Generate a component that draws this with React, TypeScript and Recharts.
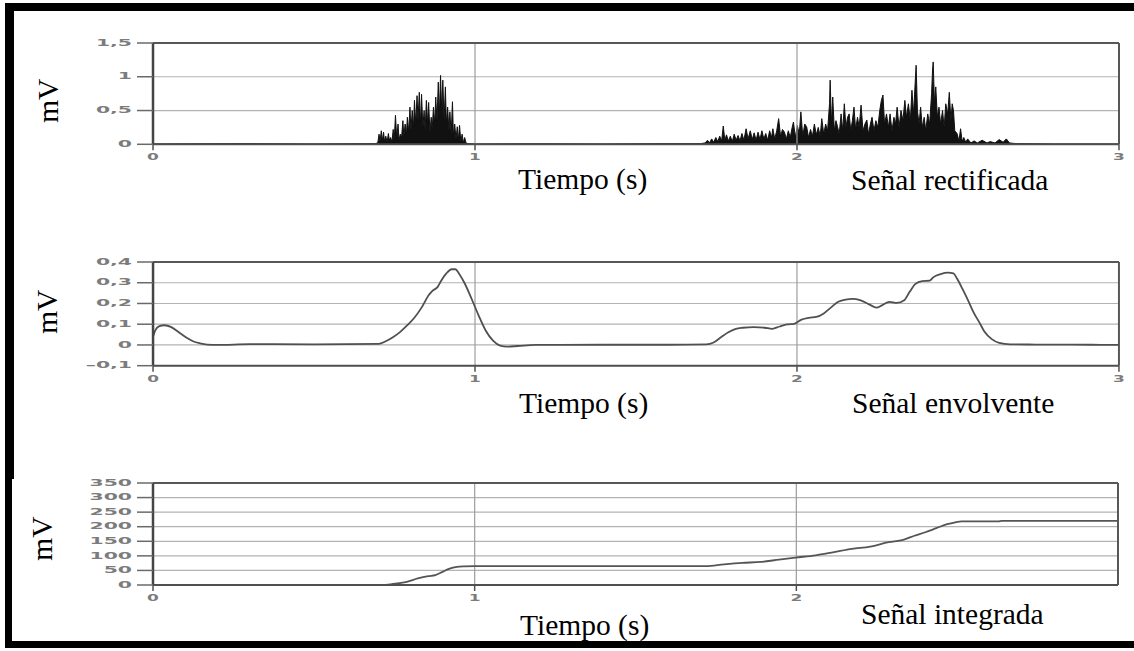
import React from 'react';
import { ComposedChart, Area, Line, XAxis, YAxis, CartesianGrid, ReferenceLine } from 'recharts';

// ---------- data ----------
const timeTicks = [0, 1, 2, 3];
const integratedTimeTicks = [0, 1, 2];
const rectYTicks = [0, 0.5, 1, 1.5];
const envYTicks = [-0.1, 0, 0.1, 0.2, 0.3, 0.4];
const intYTicks = [0, 50, 100, 150, 200, 250, 300, 350];

const panelTitles = ['Señal rectificada', 'Señal envolvente', 'Señal integrada'];
const xAxisTitle = 'Tiempo (s)';
const yAxisTitle = 'mV';

// [time (s), mV]
const rectifiedSamples: [number, number][] = [
  [0, 0.005], [0.3, 0.01], [0.5, 0.005], [0.69, 0.01],
  [0.698, 0.02], [0.702, 0.15], [0.705, 0.04], [0.709, 0.2], [0.712, 0.05], [0.716, 0.18],
  [0.719, 0.04], [0.723, 0.12], [0.727, 0.03], [0.731, 0.16], [0.734, 0.06], [0.738, 0.1],
  [0.742, 0.03], [0.746, 0.22], [0.749, 0.05], [0.753, 0.43], [0.757, 0.08], [0.761, 0.3],
  [0.764, 0.06], [0.768, 0.15], [0.772, 0.1], [0.776, 0.35], [0.779, 0.12], [0.783, 0.3],
  [0.787, 0.15], [0.79, 0.4], [0.794, 0.18], [0.798, 0.55], [0.801, 0.2], [0.805, 0.5],
  [0.809, 0.25], [0.812, 0.65], [0.816, 0.3], [0.82, 0.72], [0.823, 0.35], [0.827, 0.77],
  [0.831, 0.3], [0.834, 0.74], [0.838, 0.25], [0.842, 0.5], [0.845, 0.2], [0.849, 0.65],
  [0.853, 0.3], [0.856, 0.62], [0.86, 0.18], [0.864, 0.4], [0.867, 0.22], [0.871, 0.55],
  [0.875, 0.3], [0.878, 0.7], [0.882, 0.35], [0.886, 0.92], [0.889, 0.4], [0.893, 1.02],
  [0.897, 0.45], [0.9, 0.95], [0.904, 0.35], [0.908, 0.85], [0.911, 0.3], [0.915, 0.55],
  [0.919, 0.2], [0.922, 0.48], [0.926, 0.15], [0.93, 0.63], [0.933, 0.12], [0.937, 0.3],
  [0.941, 0.08], [0.945, 0.26], [0.948, 0.05], [0.952, 0.28], [0.956, 0.04], [0.96, 0.15],
  [0.964, 0.02], [0.968, 0.1], [0.972, 0.02], [0.978, 0.01],
  [1.0, 0.005], [1.2, 0.008], [1.4, 0.005], [1.6, 0.01], [1.7, 0.01],
  [1.715, 0.02], [1.722, 0.06], [1.728, 0.02], [1.735, 0.08], [1.741, 0.03], [1.748, 0.1],
  [1.754, 0.04], [1.76, 0.12], [1.766, 0.05], [1.771, 0.27], [1.776, 0.06], [1.781, 0.14],
  [1.787, 0.05], [1.793, 0.12], [1.799, 0.04], [1.805, 0.15], [1.811, 0.06], [1.817, 0.13],
  [1.823, 0.05], [1.829, 0.16], [1.835, 0.06], [1.842, 0.23], [1.848, 0.08], [1.855, 0.2],
  [1.861, 0.07], [1.867, 0.17], [1.873, 0.06], [1.879, 0.18], [1.885, 0.07], [1.891, 0.2],
  [1.897, 0.08], [1.903, 0.16], [1.909, 0.06], [1.915, 0.2], [1.921, 0.1], [1.925, 0.23],
  [1.931, 0.08], [1.937, 0.2], [1.943, 0.38], [1.949, 0.12], [1.955, 0.22], [1.961, 0.18],
  [1.967, 0.08], [1.973, 0.2], [1.979, 0.1], [1.985, 0.25], [1.989, 0.33], [1.995, 0.1],
  [2.001, 0.28], [2.007, 0.15], [2.012, 0.48], [2.018, 0.12], [2.024, 0.3], [2.03, 0.26],
  [2.036, 0.1], [2.042, 0.22], [2.048, 0.12], [2.054, 0.3], [2.06, 0.14], [2.066, 0.25],
  [2.072, 0.12], [2.077, 0.38], [2.083, 0.15], [2.089, 0.3], [2.095, 0.2], [2.101, 0.6],
  [2.103, 0.95], [2.107, 0.3], [2.111, 0.7], [2.116, 0.2], [2.121, 0.35], [2.126, 0.26],
  [2.131, 0.15], [2.137, 0.45], [2.142, 0.2], [2.147, 0.6], [2.152, 0.25], [2.157, 0.4],
  [2.162, 0.45], [2.167, 0.2], [2.172, 0.35], [2.177, 0.55], [2.182, 0.22], [2.188, 0.4],
  [2.193, 0.25], [2.199, 0.58], [2.205, 0.2], [2.211, 0.3], [2.217, 0.36], [2.222, 0.15],
  [2.228, 0.3], [2.233, 0.4], [2.239, 0.2], [2.245, 0.35], [2.251, 0.25], [2.257, 0.5],
  [2.262, 0.65], [2.267, 0.73], [2.272, 0.3], [2.278, 0.45], [2.284, 0.25], [2.289, 0.45],
  [2.295, 0.2], [2.301, 0.4], [2.306, 0.3], [2.311, 0.55], [2.317, 0.25], [2.323, 0.5],
  [2.329, 0.35], [2.335, 0.65], [2.34, 0.4], [2.346, 0.6], [2.352, 0.35], [2.357, 0.8],
  [2.362, 0.45], [2.368, 1.0], [2.37, 1.17], [2.374, 0.5], [2.379, 0.3], [2.384, 0.55],
  [2.389, 0.25], [2.395, 0.4], [2.4, 0.2], [2.406, 0.45], [2.412, 0.3], [2.418, 0.75],
  [2.421, 1.1], [2.423, 1.22], [2.427, 0.6], [2.431, 0.85], [2.436, 0.4], [2.441, 0.55],
  [2.446, 0.3], [2.452, 0.5], [2.457, 0.25], [2.462, 0.6], [2.468, 0.45], [2.473, 0.77],
  [2.478, 0.35], [2.482, 0.6], [2.486, 0.5], [2.49, 0.2], [2.497, 0.16], [2.503, 0.05],
  [2.508, 0.23], [2.513, 0.04], [2.518, 0.1], [2.524, 0.03], [2.53, 0.08], [2.54, 0.02],
  [2.55, 0.05], [2.56, 0.02], [2.575, 0.06], [2.59, 0.02], [2.6, 0.04], [2.615, 0.02],
  [2.628, 0.07], [2.64, 0.03], [2.65, 0.08], [2.66, 0.02], [2.68, 0.01], [2.8, 0.005], [3.0, 0.005],
];

const envelopeSamples: [number, number][] = [
  [0, 0.04], [0.007, 0.07], [0.018, 0.09], [0.035, 0.095], [0.057, 0.086], [0.079, 0.062],
  [0.102, 0.037], [0.124, 0.018], [0.146, 0.008], [0.168, 0.002], [0.2, 0], [0.3, 0.004],
  [0.5, 0.003], [0.701, 0.005], [0.723, 0.018], [0.745, 0.037], [0.767, 0.062], [0.789, 0.094],
  [0.811, 0.13], [0.834, 0.18], [0.856, 0.24], [0.867, 0.26], [0.884, 0.28], [0.895, 0.31],
  [0.911, 0.345], [0.928, 0.365], [0.939, 0.365], [0.95, 0.345], [0.967, 0.3], [0.989, 0.224],
  [1.011, 0.143], [1.033, 0.07], [1.056, 0.021], [1.078, -0.003], [1.1, -0.008], [1.133, -0.005],
  [1.189, 0], [1.4, 0.001], [1.6, 0.001], [1.719, 0.003], [1.741, 0.012], [1.764, 0.037],
  [1.787, 0.061], [1.81, 0.078], [1.832, 0.083], [1.866, 0.086], [1.9, 0.083], [1.923, 0.078],
  [1.946, 0.089], [1.969, 0.099], [1.991, 0.102], [2.014, 0.122], [2.037, 0.131], [2.06, 0.135],
  [2.082, 0.151], [2.105, 0.18], [2.128, 0.208], [2.151, 0.219], [2.173, 0.222], [2.196, 0.216],
  [2.224, 0.196], [2.247, 0.18], [2.264, 0.191], [2.287, 0.208], [2.31, 0.203], [2.333, 0.216],
  [2.35, 0.256], [2.367, 0.293], [2.389, 0.308], [2.412, 0.31], [2.423, 0.326], [2.446, 0.342],
  [2.469, 0.349], [2.486, 0.345], [2.497, 0.32], [2.514, 0.27], [2.531, 0.216], [2.548, 0.158],
  [2.566, 0.11], [2.582, 0.065], [2.605, 0.028], [2.628, 0.01], [2.662, 0.003], [2.742, 0.002],
  [2.855, 0.002], [2.969, 0], [3, 0],
];

const integratedSamples: [number, number][] = [
  [0, 0], [0.706, 0], [0.745, 3.4], [0.789, 11], [0.823, 22.6], [0.856, 30.5], [0.878, 34],
  [0.9, 45], [0.922, 56], [0.945, 62], [0.967, 64], [1.0, 65], [1.3, 65], [1.719, 65],
  [1.775, 71], [1.832, 76], [1.889, 79], [1.946, 87], [1.997, 94], [2.06, 102], [2.117, 113],
  [2.173, 124], [2.23, 132], [2.287, 147], [2.332, 155], [2.367, 169], [2.401, 181],
  [2.435, 195], [2.469, 209], [2.491, 214], [2.514, 218], [2.628, 218], [2.639, 220], [3, 220],
];

const toRows = (s: [number, number][]) => s.map(([t, v]) => ({ t, v }));
const rectifiedData = toRows(rectifiedSamples);
const envelopeData = toRows(envelopeSamples);
const integratedData = toRows(integratedSamples);

// ---------- styling helpers ----------
const fmtNum = (v: number) => (v < 0 ? '\u2013' + String(-v) : String(v)).replace('.', ',');

const tickFont = {
  fontFamily: '"DejaVu Sans", sans-serif',
  fontWeight: 700,
  fontSize: 8.5,
  fill: '#7c7c7c',
};

const yTick = (props: any) => {
  const { x, y, payload } = props;
  return (
    <g transform={`translate(${x},${y}) scale(2.4,1)`}>
      <text x={0} y={0} textAnchor="end" dominantBaseline="central" {...tickFont}>
        {fmtNum(payload.value)}
      </text>
    </g>
  );
};

const xTick = (props: any) => {
  const { x, y, payload } = props;
  return (
    <g transform={`translate(${x},${y + 5}) scale(2.0,1)`}>
      <text x={0} y={0} textAnchor="middle" dominantBaseline="central" {...tickFont}>
        {String(payload.value)}
      </text>
    </g>
  );
};

const W = 1134;

type PanelProps = {
  plotTop: number;
  plotBottom: number;
  plotRight: number;
  yDomain: [number, number];
  yTicks: number[];
  xTicks: number[];
  children: React.ReactNode;
  data: { t: number; v: number }[];
};

const Panel = ({ plotTop, plotBottom, plotRight, yDomain, yTicks, xTicks, children, data }: PanelProps) => {
  const h = plotBottom - plotTop + 40;
  return (
    <div style={{ position: 'absolute', left: 0, top: plotTop - 10, width: W, height: h }}>
      <ComposedChart
        width={W}
        height={h}
        data={data}
        margin={{ top: 10, right: W - plotRight, bottom: 0, left: 93 }}
      >
        <CartesianGrid vertical={false} stroke="#b3b3b3" strokeWidth={1.2} />
        <ReferenceLine x={1} stroke="#9d9d9d" strokeWidth={1.2} />
        <ReferenceLine x={2} stroke="#9d9d9d" strokeWidth={1.2} />
        <ReferenceLine y={yDomain[1]} stroke="#575757" strokeWidth={2} />
        <ReferenceLine x={3} stroke="#575757" strokeWidth={2} />
        <XAxis
          type="number"
          dataKey="t"
          domain={[0, 3]}
          ticks={xTicks}
          interval={0}
          height={30}
          tickSize={6}
          tickMargin={2}
          axisLine={{ stroke: '#505050', strokeWidth: 2 }}
          tickLine={{ stroke: '#505050', strokeWidth: 1.5 }}
          tick={xTick}
          allowDataOverflow
        />
        <YAxis
          type="number"
          domain={yDomain}
          ticks={yTicks}
          interval={0}
          width={60}
          tickSize={16}
          tickMargin={5}
          axisLine={{ stroke: '#454545', strokeWidth: 2.5 }}
          tickLine={{ stroke: '#6a6a6a', strokeWidth: 1.5 }}
          tick={yTick}
          allowDataOverflow
        />
        {children}
      </ComposedChart>
    </div>
  );
};

const serif = '"Liberation Serif", "Times New Roman", serif';

export default function App() {
  return (
    <div style={{ position: 'absolute', left: 0, top: 0, width: W, height: 651, background: '#fff', overflow: 'hidden' }}>
      {/* frame */}
      <div style={{ position: 'absolute', left: 5, top: 3, width: W - 5, height: 8, background: '#000' }} />
      <div style={{ position: 'absolute', left: 5, top: 3, width: 9, height: 476, background: '#000' }} />
      <div style={{ position: 'absolute', left: 5, top: 479, width: 7, height: 169, background: '#000' }} />
      <div style={{ position: 'absolute', left: 5, top: 641, width: W - 5, height: 7, background: '#000' }} />

      <Panel plotTop={42.7} plotBottom={144} plotRight={1119} yDomain={[0, 1.5]} yTicks={rectYTicks} xTicks={timeTicks} data={rectifiedData}>
        <Area
          type="linear"
          dataKey="v"
          stroke="#111"
          strokeWidth={1}
          fill="#111"
          fillOpacity={1}
          baseValue={0}
          dot={false}
          activeDot={false}
          isAnimationActive={false}
        />
      </Panel>

      <Panel plotTop={262.3} plotBottom={366} plotRight={1119} yDomain={[-0.1, 0.4]} yTicks={envYTicks} xTicks={timeTicks} data={envelopeData}>
        <Line type="monotone" dataKey="v" stroke="#505050" strokeWidth={1.8} dot={false} activeDot={false} isAnimationActive={false} />
      </Panel>

      <Panel plotTop={483.3} plotBottom={585.3} plotRight={1118} yDomain={[0, 350]} yTicks={intYTicks} xTicks={integratedTimeTicks} data={integratedData}>
        <Line type="monotone" dataKey="v" stroke="#555555" strokeWidth={1.8} dot={false} activeDot={false} isAnimationActive={false} />
      </Panel>

      <svg width={W} height={651} style={{ position: 'absolute', left: 0, top: 0, pointerEvents: 'none' }}>
        <g fontFamily={serif} fontSize={29.5} fill="#000">
          <text transform="translate(58,100.7) rotate(-90)" textAnchor="middle">{yAxisTitle}</text>
          <text transform="translate(57.3,311.7) rotate(-90)" textAnchor="middle">{yAxisTitle}</text>
          <text transform="translate(51.7,538.5) rotate(-90)" textAnchor="middle">{yAxisTitle}</text>

          <text x={518} y={189}>{xAxisTitle}</text>
          <text x={519} y={412.5}>{xAxisTitle}</text>
          <text x={520} y={635}>{xAxisTitle}</text>

          <text x={851} y={190}>{panelTitles[0]}</text>
          <text x={852} y={412.5}>{panelTitles[1]}</text>
          <text x={861} y={624}>{panelTitles[2]}</text>
        </g>
      </svg>
    </div>
  );
}
